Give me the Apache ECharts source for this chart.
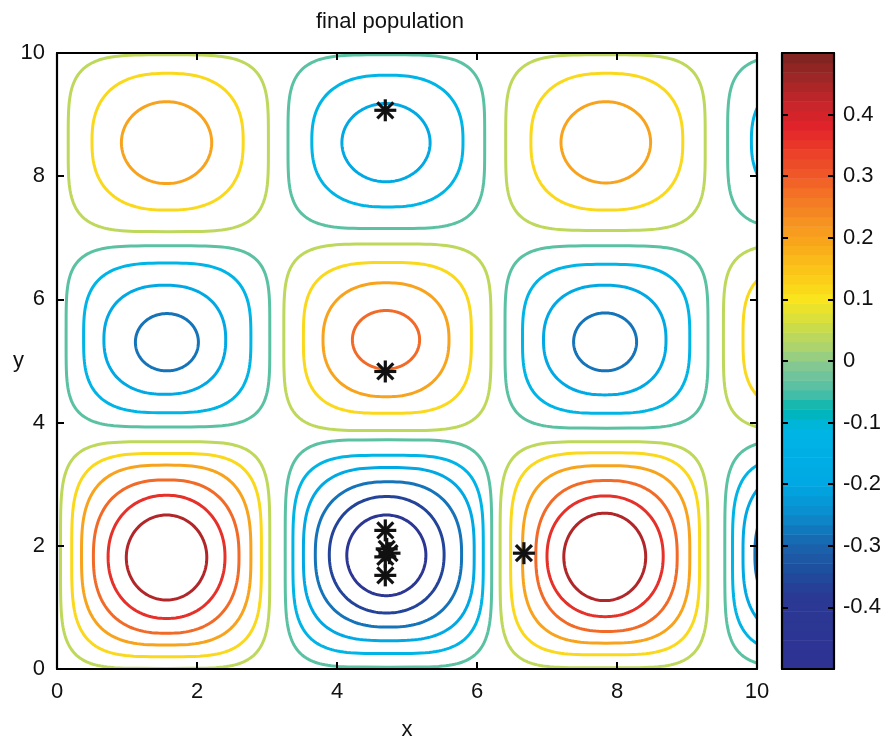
<!DOCTYPE html>
<html><head><meta charset="utf-8">
<script src="https://cdn.jsdelivr.net/npm/echarts@6/dist/echarts.min.js"></script>
<style>html,body{margin:0;padding:0;background:#fff}#c{width:896px;height:740px}</style>
</head><body><div id="c"></div><script>
// ---- data ----
const xTicks = [0, 2, 4, 6, 8, 10];
const yTicks = [0, 2, 4, 6, 8, 10];
const cbTicks = [-0.4, -0.3, -0.2, -0.1, 0, 0.1, 0.2, 0.3, 0.4];
const cbRange = [-0.5, 0.5];
// contour rings of each cell: [level, xmin, xmax, ymin, ymax]
const ringsBottomLeft = [[0.04,0.05,3.04,0.01,3.69],[0.12,0.21,2.92,0.20,3.50],[0.20,0.35,2.77,0.39,3.31],[0.28,0.52,2.60,0.58,3.07],[0.36,0.73,2.40,0.82,2.82],[0.44,0.99,2.14,1.12,2.50]];
const ringsBottomMid = [[-0.04,3.26,6.21,0.03,3.72],[-0.12,3.37,6.09,0.25,3.47],[-0.20,3.52,5.96,0.46,3.27],[-0.28,3.69,5.78,0.68,3.04],[-0.36,3.89,5.53,0.91,2.80],[-0.44,4.14,5.27,1.19,2.50]];
const ringsBottomRight = [[0.04,6.33,9.30,0.02,3.69],[0.12,6.48,9.18,0.23,3.51],[0.20,6.65,9.04,0.42,3.30],[0.28,6.84,8.86,0.61,3.06],[0.36,7.00,8.66,0.85,2.81],[0.44,7.24,8.41,1.11,2.53]];
const ringsBottomEdge = [[-0.04,9.54,12.49,0.03,3.72],[-0.12,9.65,12.37,0.25,3.47],[-0.20,9.80,12.24,0.46,3.27],[-0.28,9.97,12.06,0.68,3.04]];
const ringsMidLeft = [[-0.04,0.13,3.04,3.93,6.87],[-0.12,0.38,2.77,4.16,6.59],[-0.20,0.67,2.41,4.46,6.23],[-0.28,1.12,2.02,4.84,5.77]];
const ringsMidMid = [[0.04,3.24,6.20,3.87,6.90],[0.12,3.52,5.92,4.15,6.60],[0.20,3.80,5.60,4.42,6.27],[0.28,4.22,5.18,4.87,5.82]];
const ringsMidRight = [[-0.04,6.40,9.30,3.91,6.87],[-0.12,6.65,9.04,4.15,6.57],[-0.20,6.95,8.70,4.45,6.23],[-0.28,7.38,8.28,4.84,5.78]];
const ringsMidEdge = [[0.04,9.52,12.48,3.87,6.90],[0.12,9.80,12.20,4.15,6.60]];
const ringsTopLeft = [[0.04,0.16,3.02,7.10,9.97],[0.12,0.50,2.66,7.45,9.67],[0.20,0.92,2.21,7.88,9.21]];
const ringsTopMid = [[-0.04,3.30,6.11,7.15,9.97],[-0.12,3.64,5.80,7.50,9.64],[-0.20,4.07,5.33,7.91,9.18]];
const ringsTopRight = [[0.04,6.41,9.26,7.12,9.97],[0.12,6.77,8.94,7.45,9.67],[0.20,7.20,8.48,7.89,9.21]];
const ringsTopEdge = [[-0.04,9.58,12.39,7.15,9.97],[-0.12,9.92,12.08,7.50,9.64]];
// estimated extreme value of each cell (same order as the ring lists)
const cellPeaks = [0.49, -0.49, 0.49, -0.49, -0.32, 0.32, -0.32, 0.32, 0.22, -0.22, 0.22, -0.22];
// population points (asterisks)
const starX = [4.69, 4.69, 4.69, 4.71, 4.75, 4.69, 4.69, 6.67];
const starY = [9.07, 4.83, 2.25, 1.95, 1.88, 1.82, 1.52, 1.88];

// ---- style ----
const FONT = "'Liberation Sans', Arial, Helvetica, sans-serif";
const cmapStops = [
  [-0.50,'#2e3192'],[-0.38,'#2a3a94'],[-0.34,'#1d4e9d'],[-0.30,'#1a62ac'],[-0.25,'#0a8ccc'],
  [-0.20,'#00a8e4'],[-0.11,'#00b6e6'],[-0.08,'#00b5b4'],[-0.05,'#4dbfa6'],[-0.01,'#80c796'],
  [0.02,'#a9d271'],[0.06,'#d0de44'],[0.10,'#f9e51e'],[0.14,'#fbca18'],[0.18,'#f9af1a'],
  [0.22,'#f6961f'],[0.26,'#f47b25'],[0.30,'#f05a28'],[0.34,'#ea3f29'],[0.38,'#e2232a'],
  [0.42,'#c4262b'],[0.46,'#9e2626'],[0.50,'#7b2321']];
function hex2rgb(h){return [parseInt(h.substr(1,2),16),parseInt(h.substr(3,2),16),parseInt(h.substr(5,2),16)];}
function cmap(v){
  if (v <= cmapStops[0][0]) return cmapStops[0][1];
  for (let i = 1; i < cmapStops.length; i++) {
    if (v <= cmapStops[i][0]) {
      const a = cmapStops[i-1], b = cmapStops[i];
      const t = (v - a[0]) / (b[0] - a[0]);
      const ca = hex2rgb(a[1]), cb = hex2rgb(b[1]);
      return 'rgb(' + ca.map((c,k)=>Math.round(c + (cb[k]-c)*t)).join(',') + ')';
    }
  }
  return cmapStops[cmapStops.length-1][1];
}

const cellRings = [ringsBottomLeft, ringsBottomMid, ringsBottomRight, ringsBottomEdge,
  ringsMidLeft, ringsMidMid, ringsMidRight, ringsMidEdge,
  ringsTopLeft, ringsTopMid, ringsTopRight, ringsTopEdge];
const ringData = [];
cellRings.forEach((rings, ci) => rings.forEach(r => ringData.push(r.concat([cellPeaks[ci]]))));

const nBands = 64;
const bandData = [];
for (let i = 0; i < nBands; i++) {
  const lo = cbRange[0] + (cbRange[1]-cbRange[0]) * i / nBands;
  const hi = cbRange[0] + (cbRange[1]-cbRange[0]) * (i+1) / nBands;
  bandData.push([lo, hi]);
}

function renderRing(params, api) {
  const lv = api.value(0), x0 = api.value(1), x1 = api.value(2), y0 = api.value(3), y1 = api.value(4), pk = api.value(5);
  const cx = (x0+x1)/2, cy = (y0+y1)/2, a = (x1-x0)/2, b = (y1-y0)/2;
  const t = Math.min(1, Math.abs(lv/pk));
  const n = 2 + 3.5*Math.pow(1-t, 2.5);
  const pts = [];
  const N = 180;
  for (let i = 0; i < N; i++) {
    const th = i / N * 2 * Math.PI;
    const c = Math.cos(th), s = Math.sin(th);
    pts.push(api.coord([cx + a*Math.sign(c)*Math.pow(Math.abs(c), 2/n),
                        cy + b*Math.sign(s)*Math.pow(Math.abs(s), 2/n)]));
  }
  return {type: 'polygon', shape: {points: pts}, style: {fill: 'none', stroke: cmap(lv), lineWidth: 3}};
}
function renderStar(params, api) {
  const p = api.coord([api.value(0), api.value(1)]);
  const h = 11, d = 8;
  const st = {stroke: '#111', lineWidth: 3.2};
  const seg = (x1,y1,x2,y2) => ({type:'line', shape:{x1:p[0]+x1,y1:p[1]+y1,x2:p[0]+x2,y2:p[1]+y2}, style: st});
  return {type: 'group', children: [seg(-h,0,h,0), seg(0,-h,0,h), seg(-d,-d,d,d), seg(-d,d,d,-d)]};
}
function renderBand(params, api) {
  const p0 = api.coord([0, api.value(0)]);
  const p1 = api.coord([1, api.value(1)]);
  return {type: 'rect', shape: {x: p0[0], y: p1[1], width: p1[0]-p0[0], height: p0[1]-p1[1] + 0.6},
          style: {fill: cmap((api.value(0)+api.value(1))/2)}};
}

const lbl = {color: '#111', fontSize: 22, fontFamily: FONT};
const tickStyle = {show: true, inside: true, length: 7, lineStyle: {color: '#000', width: 2}};
const lineStyle = {show: true, onZero: false, lineStyle: {color: '#000', width: 2.2}};

const chart = echarts.init(document.getElementById('c'), null, {renderer: 'canvas'});
chart.setOption({
  backgroundColor: '#fff',
  animation: false,
  title: {text: 'final population', left: 385, top: 6, textAlign: 'center',
          textStyle: {fontSize: 22, fontWeight: 'normal', color: '#111', fontFamily: FONT}},
  grid: [
    {left: 57, right: 139, top: 53, bottom: 71, show: false, containLabel: false, outerBoundsMode: 'none'},
    {left: 782, width: 52, top: 53, bottom: 71, show: false, containLabel: false, outerBoundsMode: 'none'}
  ],
  xAxis: [
    {gridIndex: 0, type: 'value', min: xTicks[0], max: xTicks[xTicks.length-1], interval: xTicks[1]-xTicks[0],
     position: 'bottom', axisLine: lineStyle, axisTick: tickStyle, splitLine: {show: false}, z: 10,
     axisLabel: Object.assign({margin: 12}, lbl),
     name: 'x', nameLocation: 'middle', nameGap: 50, nameTextStyle: lbl, nameMoveOverlap: false},
    {gridIndex: 0, type: 'value', min: xTicks[0], max: xTicks[xTicks.length-1], interval: xTicks[1]-xTicks[0],
     position: 'top', axisLine: lineStyle, axisTick: tickStyle, splitLine: {show: false}, axisLabel: {show: false}, z: 10},
    {gridIndex: 1, type: 'value', min: 0, max: 1, position: 'bottom', axisLine: lineStyle, z: 10,
     axisTick: {show: false}, axisLabel: {show: false}, splitLine: {show: false}},
    {gridIndex: 1, type: 'value', min: 0, max: 1, position: 'top', axisLine: lineStyle, z: 10,
     axisTick: {show: false}, axisLabel: {show: false}, splitLine: {show: false}}
  ],
  yAxis: [
    {gridIndex: 0, type: 'value', min: yTicks[0], max: yTicks[yTicks.length-1], interval: yTicks[1]-yTicks[0],
     position: 'left', axisLine: lineStyle, axisTick: tickStyle, splitLine: {show: false}, z: 10,
     axisLabel: Object.assign({margin: 12}, lbl),
     name: 'y', nameLocation: 'middle', nameGap: 33, nameRotate: 0, nameTextStyle: lbl, nameMoveOverlap: false},
    {gridIndex: 0, type: 'value', min: yTicks[0], max: yTicks[yTicks.length-1], interval: yTicks[1]-yTicks[0],
     position: 'right', axisLine: lineStyle, axisTick: tickStyle, splitLine: {show: false}, axisLabel: {show: false}, z: 10},
    {gridIndex: 1, type: 'value', min: cbRange[0], max: cbRange[1], interval: 0.1, z: 10,
     position: 'left', axisLine: lineStyle, axisTick: Object.assign({}, tickStyle, {length: 6}),
     splitLine: {show: false}, axisLabel: {show: false}},
    {gridIndex: 1, type: 'value', min: cbRange[0], max: cbRange[1], interval: 0.1, z: 10,
     position: 'right', axisLine: lineStyle, axisTick: Object.assign({}, tickStyle, {length: 6}),
     splitLine: {show: false},
     axisLabel: Object.assign({margin: 9, showMinLabel: false, showMaxLabel: false,
       formatter: v => { const r = Math.round(v*10)/10; return cbTicks.indexOf(r) >= 0 ? String(r) : ''; }}, lbl)}
  ],
  series: [
    {type: 'custom', xAxisIndex: 2, yAxisIndex: 2, data: bandData, renderItem: renderBand, silent: true, z: 1},
    {type: 'custom', xAxisIndex: 0, yAxisIndex: 0, data: ringData, renderItem: renderRing, clip: true, silent: true, z: 2},
    {type: 'custom', xAxisIndex: 0, yAxisIndex: 0, data: starX.map((x,i) => [x, starY[i]]), renderItem: renderStar, clip: true, silent: true, z: 3}
  ]
});
</script></body></html>
